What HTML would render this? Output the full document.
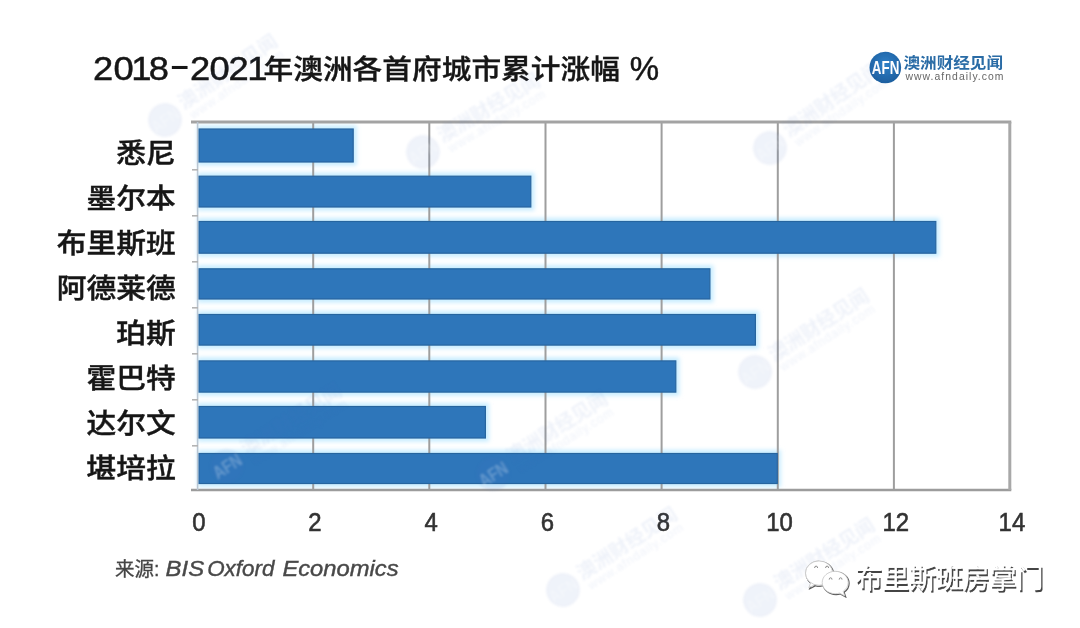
<!DOCTYPE html>
<html lang="zh-CN"><head><meta charset="utf-8"><title>2018-2021年澳洲各首府城市累计涨幅 %</title>
<style>html,body{margin:0;padding:0;background:#fff;}body{width:1080px;height:628px;overflow:hidden;}svg{display:block;}text{font-family:"Liberation Sans", "Noto Sans CJK SC", sans-serif;}</style></head><body>
<svg width="1080" height="628" viewBox="0 0 1080 628">
<defs>
<filter id="glow" x="-5%" y="-30%" width="110%" height="160%"><feGaussianBlur stdDeviation="2.2"/></filter>
<filter id="wmblur" x="-10%" y="-10%" width="120%" height="120%"><feGaussianBlur stdDeviation="0.9"/></filter>
<filter id="soft" x="-2%" y="-2%" width="104%" height="104%"><feGaussianBlur stdDeviation="0.6"/></filter>
<radialGradient id="lg" cx="50%" cy="40%" r="60%"><stop offset="0" stop-color="#2f80c8"/><stop offset="1" stop-color="#1d5f9f"/></radialGradient>
<g id="wmk"><circle cx="0" cy="0" r="15"/><text x="19" y="2.2" font-size="17" font-weight="bold">澳洲财经见闻</text><text x="21" y="13.6" font-size="11" textLength="98" lengthAdjust="spacing">www.afndaily.com</text></g>
</defs>
<rect x="0" y="0" width="1080" height="628" fill="#ffffff"/>
<g filter="url(#soft)">
<g id="glow-layer">
<rect x="197.6" y="125.5" width="159.1" height="40.0" fill="#c6ecff" filter="url(#glow)"/>
<rect x="197.6" y="172.7" width="336.7" height="37.8" fill="#c6ecff" filter="url(#glow)"/>
<rect x="197.6" y="218.0" width="741.7" height="38.7" fill="#c6ecff" filter="url(#glow)"/>
<rect x="197.6" y="265.3" width="515.8" height="37.2" fill="#c6ecff" filter="url(#glow)"/>
<rect x="197.6" y="311.0" width="561.3" height="37.6" fill="#c6ecff" filter="url(#glow)"/>
<rect x="197.6" y="357.4" width="481.7" height="38.2" fill="#c6ecff" filter="url(#glow)"/>
<rect x="197.6" y="403.0" width="291.3" height="38.5" fill="#c6ecff" filter="url(#glow)"/>
<rect x="197.6" y="450.0" width="583.2" height="37.0" fill="#c6ecff" filter="url(#glow)"/>
</g>
<g id="grid">
<line x1="313.2" y1="122.0" x2="313.2" y2="490.0" stroke="#9e9e9e" stroke-width="2"/>
<line x1="429.3" y1="122.0" x2="429.3" y2="490.0" stroke="#9e9e9e" stroke-width="2"/>
<line x1="545.5" y1="122.0" x2="545.5" y2="490.0" stroke="#9e9e9e" stroke-width="2"/>
<line x1="661.6" y1="122.0" x2="661.6" y2="490.0" stroke="#9e9e9e" stroke-width="2"/>
<line x1="777.8" y1="122.0" x2="777.8" y2="490.0" stroke="#9e9e9e" stroke-width="2"/>
<line x1="893.9" y1="122.0" x2="893.9" y2="490.0" stroke="#9e9e9e" stroke-width="2"/>
<line x1="191" y1="121.9" x2="1011.3" y2="121.9" stroke="#a3a3a3" stroke-width="3"/>
<line x1="191" y1="490.0" x2="1011.3" y2="490.0" stroke="#9c9c9c" stroke-width="2.6"/>
<line x1="1009.8" y1="122.0" x2="1009.8" y2="490.0" stroke="#a8a8a8" stroke-width="3"/>
<line x1="197.6" y1="122.0" x2="197.6" y2="490.0" stroke="#b9c6d2" stroke-width="1.6"/>
<line x1="192" y1="169.8" x2="198" y2="169.8" stroke="#b4b4b4" stroke-width="1.6"/>
<line x1="192" y1="215.8" x2="198" y2="215.8" stroke="#b4b4b4" stroke-width="1.6"/>
<line x1="192" y1="261.8" x2="198" y2="261.8" stroke="#b4b4b4" stroke-width="1.6"/>
<line x1="192" y1="307.8" x2="198" y2="307.8" stroke="#b4b4b4" stroke-width="1.6"/>
<line x1="192" y1="353.8" x2="198" y2="353.8" stroke="#b4b4b4" stroke-width="1.6"/>
<line x1="192" y1="399.8" x2="198" y2="399.8" stroke="#b4b4b4" stroke-width="1.6"/>
<line x1="192" y1="445.8" x2="198" y2="445.8" stroke="#b4b4b4" stroke-width="1.6"/>
</g>
<g id="bars">
<rect x="199.1" y="129.0" width="154.1" height="33.0" fill="#2f76ba" stroke="#28659f" stroke-width="1.2"/>
<rect x="199.1" y="176.2" width="331.7" height="30.8" fill="#2f76ba" stroke="#28659f" stroke-width="1.2"/>
<rect x="199.1" y="221.5" width="736.7" height="31.7" fill="#2f76ba" stroke="#28659f" stroke-width="1.2"/>
<rect x="199.1" y="268.8" width="510.8" height="30.2" fill="#2f76ba" stroke="#28659f" stroke-width="1.2"/>
<rect x="199.1" y="314.5" width="556.3" height="30.6" fill="#2f76ba" stroke="#28659f" stroke-width="1.2"/>
<rect x="199.1" y="360.9" width="476.7" height="31.2" fill="#2f76ba" stroke="#28659f" stroke-width="1.2"/>
<rect x="199.1" y="406.5" width="286.3" height="31.5" fill="#2f76ba" stroke="#28659f" stroke-width="1.2"/>
<rect x="199.1" y="453.5" width="578.2" height="30.0" fill="#2f76ba" stroke="#28659f" stroke-width="1.2"/>
</g>
<g id="cats" font-size="29.7" font-weight="500" fill="#151515" stroke="#151515" stroke-width="0.45" text-anchor="end">
<text transform="translate(175.6,163.1) scale(1,0.935)" x="0" y="0">悉尼</text>
<text transform="translate(175.6,208.1) scale(1,0.935)" x="0" y="0">墨尔本</text>
<text transform="translate(175.6,253.1) scale(1,0.935)" x="0" y="0">布里斯班</text>
<text transform="translate(175.6,298.1) scale(1,0.935)" x="0" y="0">阿德莱德</text>
<text transform="translate(175.6,343.1) scale(1,0.935)" x="0" y="0">珀斯</text>
<text transform="translate(175.6,388.1) scale(1,0.935)" x="0" y="0">霍巴特</text>
<text transform="translate(175.6,433.1) scale(1,0.935)" x="0" y="0">达尔文</text>
<text transform="translate(175.6,478.1) scale(1,0.935)" x="0" y="0">堪培拉</text>
</g>
<g id="ax" font-size="26" fill="#333333" stroke="#333333" stroke-width="0.6" text-anchor="middle">
<text transform="translate(198.8,531) scale(0.92,1)" x="0" y="0">0</text>
<text transform="translate(315.0,531) scale(0.92,1)" x="0" y="0">2</text>
<text transform="translate(431.1,531) scale(0.92,1)" x="0" y="0">4</text>
<text transform="translate(547.3,531) scale(0.92,1)" x="0" y="0">6</text>
<text transform="translate(663.4,531) scale(0.92,1)" x="0" y="0">8</text>
<text transform="translate(779.6,531) scale(0.92,1)" x="0" y="0">10</text>
<text transform="translate(895.7,531) scale(0.92,1)" x="0" y="0">12</text>
<text transform="translate(1011.9,531) scale(0.92,1)" x="0" y="0">14</text>
</g>
<g id="title" fill="#141414" stroke="#141414" stroke-width="0.45">
<text transform="scale(1.100,1)" x="84.55 103.09 119.27 135.18" y="80" font-size="33.0">2018</text>
<text transform="translate(169,77.9) scale(1.95,1.15)" x="0" y="0" font-size="33" stroke-width="0">-</text>
<text transform="scale(1.100,1)" x="172.82 190.45 207.73 224.73" y="80" font-size="33.0">2021</text>
<text transform="translate(263.5,78.8) scale(1,0.935)" x="0" y="0" font-size="29.7" font-weight="500" stroke-width="0.35">年澳洲各首府城市累计涨幅</text>
<text x="629.7" y="80" font-size="33">%</text>
</g>
<text y="576.2" font-size="19.5" fill="#444444" stroke="#444444" stroke-width="0.3"><tspan x="115">来源:</tspan></text>
<text y="575.6" font-size="22.6" font-style="italic" fill="#484848" stroke="#484848" stroke-width="0.4"><tspan x="165.6" textLength="38.6" lengthAdjust="spacingAndGlyphs">BIS</tspan> <tspan x="207.2" textLength="67.2" lengthAdjust="spacingAndGlyphs">Oxford</tspan> <tspan x="282.4" textLength="116.2" lengthAdjust="spacingAndGlyphs">Economics</tspan></text>
<g id="logo">
<circle cx="885.3" cy="67.5" r="15.8" fill="url(#lg)"/>
<text x="885.6" y="74" font-size="18.5" font-weight="bold" fill="#ffffff" text-anchor="middle" textLength="27.5" lengthAdjust="spacingAndGlyphs">AFN</text>
<text transform="translate(903.5,68.0) scale(1,0.92)" x="0" y="0" font-size="16.6" font-weight="bold" fill="#2a6ca6">澳洲财经见闻</text>
<text x="905.5" y="80" font-size="10.4" fill="#666666" textLength="98" lengthAdjust="spacing">www.afndaily.com</text>
</g>
</g>
<g id="wm" fill="#4a6fc0" opacity="0.09" filter="url(#wmblur)">
<use href="#wmk" transform="translate(165.0,120.0) rotate(-34.5) scale(1.13)"/>
<use href="#wmk" transform="translate(423.0,152.0) rotate(-30.5) scale(1.13)"/>
<use href="#wmk" transform="translate(770.0,148.0) rotate(-34.5) scale(1.13)"/>
<use href="#wmk" transform="translate(755.0,372.0) rotate(-33.0) scale(1.13)"/>
<use href="#wmk" transform="translate(493.0,474.0) rotate(-32.5) scale(1.13)"/>
<use href="#wmk" transform="translate(227.0,466.0) rotate(-32.5) scale(1.13)"/>
<use href="#wmk" transform="translate(563.0,590.0) rotate(-33.0) scale(1.13)"/>
<use href="#wmk" transform="translate(760.0,600.0) rotate(-32.5) scale(1.13)"/>
</g>
<g id="wm-afn" fill="#ffffff" opacity="0.25" font-size="16" font-weight="bold" text-anchor="middle" filter="url(#wmblur)">
<text transform="translate(165.0,120.0) rotate(-34.5) scale(1.13)" x="0" y="5.8" textLength="27" lengthAdjust="spacingAndGlyphs">AFN</text>
<text transform="translate(423.0,152.0) rotate(-30.5) scale(1.13)" x="0" y="5.8" textLength="27" lengthAdjust="spacingAndGlyphs">AFN</text>
<text transform="translate(770.0,148.0) rotate(-34.5) scale(1.13)" x="0" y="5.8" textLength="27" lengthAdjust="spacingAndGlyphs">AFN</text>
<text transform="translate(755.0,372.0) rotate(-33.0) scale(1.13)" x="0" y="5.8" textLength="27" lengthAdjust="spacingAndGlyphs">AFN</text>
<text transform="translate(493.0,474.0) rotate(-32.5) scale(1.13)" x="0" y="5.8" textLength="27" lengthAdjust="spacingAndGlyphs">AFN</text>
<text transform="translate(227.0,466.0) rotate(-32.5) scale(1.13)" x="0" y="5.8" textLength="27" lengthAdjust="spacingAndGlyphs">AFN</text>
<text transform="translate(563.0,590.0) rotate(-33.0) scale(1.13)" x="0" y="5.8" textLength="27" lengthAdjust="spacingAndGlyphs">AFN</text>
<text transform="translate(760.0,600.0) rotate(-32.5) scale(1.13)" x="0" y="5.8" textLength="27" lengthAdjust="spacingAndGlyphs">AFN</text>
</g>
<g id="wx" filter="url(#soft)">
<g fill="#ffffff" stroke="#5a5a5a" stroke-width="1.2" transform="translate(0.6,0.6)"><path d="M819.4 561.2c-7.6 0-13.6 5.4-13.6 12.2 0 3.9 2 7.3 5.2 9.5l-1.9 5.2 5.9-3.1c1.4 .4 2.9 .6 4.4 .6z"/><ellipse cx="819.4" cy="573.4" rx="13.6" ry="12.2"/><path d="M835.5 571.6c-7.2 0-13 5-13 11.2s5.8 11.2 13 11.2c1.500 0 2.900-.2 4.200-.6l5.400 2.900-1.600-4.700c3.100-2.100 5-5.200 5-8.800 0-6.200-5.800-11.200-13-11.200z"/></g>
<g fill="#ffffff" stroke="#c4c4c4" stroke-width="0.8" transform="translate(-0.3,-0.3)"><path d="M819.4 561.2c-7.6 0-13.6 5.4-13.6 12.2 0 3.9 2 7.3 5.2 9.5l-1.9 5.2 5.9-3.1c1.4 .4 2.9 .6 4.4 .6z"/><ellipse cx="819.4" cy="573.4" rx="13.6" ry="12.2"/><path d="M835.5 571.6c-7.2 0-13 5-13 11.2s5.8 11.2 13 11.2c1.500 0 2.900-.2 4.200-.6l5.400 2.900-1.600-4.700c3.100-2.100 5-5.200 5-8.800 0-6.200-5.800-11.200-13-11.200z"/></g>
<g fill="none" stroke="#8a8a8a" stroke-width="1" stroke-linecap="round"><path d="M814.6 567.6a1.500 1.500 0 0 1 3 0"/><path d="M825.6 567.6a1.500 1.500 0 0 1 3 0"/><path d="M829.2 579.2a1.400 1.400 0 0 1 2.800 0"/><path d="M839.200 579.2a1.400 1.400 0 0 1 2.800 0"/></g>
<text x="856.6" y="589.6" font-size="26.9" fill="#444444" stroke="#444444" stroke-width="0.3" textLength="188" lengthAdjust="spacing">布里斯班房掌门</text>
<text x="855.3" y="588.3" font-size="26.9" fill="#ffffff" stroke="#ffffff" stroke-width="0.3" textLength="188" lengthAdjust="spacing">布里斯班房掌门</text>
</g>
</svg></body></html>
